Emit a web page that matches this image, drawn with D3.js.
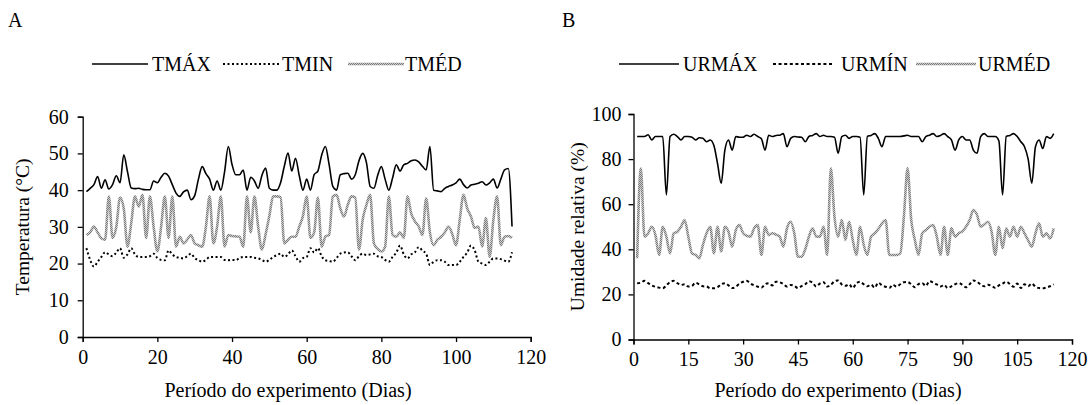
<!DOCTYPE html>
<html>
<head>
<meta charset="utf-8">
<script src="https://cdn.jsdelivr.net/npm/d3@7"></script>
<style>
  body { margin: 0; background: #fff; }
  svg text { font-family: "Liberation Serif", "Times New Roman", Times, serif; }
</style>
</head>
<body>
<div id="chart"></div>
<script>
// dias do experimento (eixo x)
var dias = d3.range(1, 116);

// Painel A - temperatura (°C)
var tmax = [
  39.6, 40.5, 41.5, 43.7, 40.5, 42.8, 40.3, 41.5, 43.9, 42,
  49.6, 45, 40.6, 40.4, 40.5, 40.2, 40.1, 40.1, 42.5, 42,
  43.5, 44.6, 43.8, 41.5, 39.2, 38.3, 39.5, 40, 37.4, 38.5,
  43, 46.4, 44.5, 43, 40, 42.5, 40, 45, 51.9, 47,
  44.2, 44.2, 45.5, 40, 43.5, 42.5, 40.5, 44, 46, 40.5,
  40, 40, 42, 46.5, 50.1, 45.2, 48.7, 44, 40, 43,
  40, 44.2, 45.2, 49.5, 51.9, 47, 41, 40, 44.2, 44.5,
  44.6, 43, 44.2, 48, 50, 47.5, 41, 40.5, 44, 46.4,
  43, 40, 43.3, 46.9, 45.2, 46.9, 47.3, 48, 48.2, 47.7,
  46.5, 45.5, 51.9, 40, 39.8, 39.6, 40.5, 41, 41.4, 42,
  43, 41.5, 40.6, 41.4, 41.6, 41.9, 42.3, 41.4, 42, 43,
  40.6, 43, 45.5, 45.9, 30.1
];
var tmin = [
  24.2, 21, 19.2, 20.5, 21.8, 23.1, 22.5, 22, 23, 24.2,
  21.6, 22.5, 24.2, 22.5, 21.8, 21.8, 21.8, 22, 22.7, 21.5,
  21, 20.9, 23.6, 22.5, 21.8, 21.6, 21.4, 22, 22.7, 21.5,
  20.9, 20.5, 21, 21.8, 21.8, 21.8, 21.8, 21, 20.9, 21,
  20.9, 21.5, 21.8, 21.8, 21.8, 21.6, 21.4, 21, 20.5, 21,
  21.8, 22.3, 22.7, 21.8, 22.5, 23.6, 22, 20.5, 21.5, 21.8,
  24.2, 23, 24.2, 22, 20.9, 20.7, 20.5, 21.5, 22.7, 23,
  23.1, 22, 20.9, 22, 22.7, 22.3, 22.5, 22.7, 22, 21.8,
  21, 20.5, 21.8, 23, 24.9, 22.5, 21.4, 22.5, 23.1, 24.5,
  23.5, 22.7, 19.6, 20.5, 20.9, 20.9, 20.5, 19.6, 19.6, 19.6,
  20.5, 21.8, 23, 24.9, 23.6, 20.5, 20, 19.6, 20.5, 21.4,
  21.4, 21.2, 20.8, 20.5, 23.1
];
var tmed = [
  27.8, 28.5, 30.1, 28.5, 26.9, 26.5, 38.3, 27, 30, 38,
  35, 24.6, 31, 38.3, 35.5, 38.7, 27, 38.3, 30, 23.3,
  30, 38.3, 27, 38.3, 24.6, 27.3, 25.5, 26.5, 27.8, 25.5,
  25, 24.6, 30, 38.3, 25.5, 30, 38.3, 24.6, 27.8, 27.5,
  27.4, 27.3, 24.6, 38.3, 28.5, 38.3, 30, 23.8, 28, 33,
  38.3, 38.3, 38, 25.5, 26.5, 27.3, 27.3, 30, 33, 38.3,
  27, 28.5, 38, 24.6, 27.3, 27.8, 38.3, 38.7, 35, 32.8,
  36, 38.3, 38, 23.8, 32, 36, 38.7, 25.5, 24, 23.3,
  24.6, 38.3, 27.8, 27.3, 28.5, 27, 38.3, 33.6, 31.5, 30.1,
  27.8, 37.8, 28.5, 25, 26.5, 27.3, 28.5, 30.1, 28, 25,
  32, 38.7, 35, 32.8, 29.7, 30.1, 24.6, 32.4, 21.9, 31.9,
  38.3, 25, 27.3, 27.5, 27
];

// Painel B - umidade relativa (%)
var urmax = [
  90, 90, 90, 90.8, 88.5, 90, 90, 90, 64.1, 90,
  91, 90, 88.5, 90, 90, 89.7, 88.5, 89.5, 89.2, 87.7,
  88.5, 86, 78, 69.3, 84, 88.5, 84, 90, 89.7, 89.7,
  90.6, 90, 91, 90, 89, 84, 90.6, 90, 90.5, 90.6,
  91.3, 85.5, 89.2, 90, 89.8, 89.7, 87.7, 90, 90.5, 91.3,
  90, 90.6, 90, 90, 89.7, 82.6, 90, 90.6, 89.2, 90,
  90, 89.7, 64.1, 90, 90.5, 91.3, 89.2, 85.5, 90, 90,
  90, 90, 90, 90.3, 90.6, 90, 90, 90, 87.7, 90,
  90.6, 91.3, 90, 90.5, 91.3, 90, 88.5, 84, 88.5, 90,
  88.5, 88.5, 84, 82.6, 90, 91.3, 90, 90, 90, 88,
  64.1, 90, 90.5, 91.3, 90, 87.7, 85.5, 80, 69.3, 85.5,
  88.5, 84.7, 90, 89.2, 91.3
];
var urmin = [
  24.9, 25.2, 26, 25, 24, 23.4, 23, 22.7, 24, 25.5,
  26, 25, 24.2, 24.5, 23.5, 23.8, 25.2, 24.4, 23.6, 23.5,
  22.7, 22.7, 23.2, 24.5, 25, 24, 22.8, 23.4, 24.8, 25.6,
  26, 24.8, 24, 23.4, 23, 24.5, 25, 24, 25.6, 25.4,
  24.6, 23.5, 24.2, 23.8, 22.8, 23.7, 24.5, 25.8, 25.2, 23.5,
  24.8, 25.4, 23.5, 24.2, 25.8, 26.2, 24.4, 23.8, 24.5, 22.8,
  24.9, 25.6, 24.5, 23.6, 24.3, 23, 25.2, 24, 23.4, 22.9,
  24.3, 23.4, 24.5, 25.4, 25.5, 24.5, 23.2, 24.6, 25, 23.8,
  25.9, 25.3, 24.4, 23.5, 24.2, 22.8, 23.6, 24.5, 25, 24.3,
  23.2, 24.5, 26.2, 25.6, 24.4, 23.6, 24.3, 23.8, 22.9, 24,
  24.8, 25.6, 24.6, 23.4, 24.8, 22.8, 24.5, 23.6, 24.8, 23.4,
  22.8, 22.7, 23.1, 23.6, 24.4
];
var urmed = [
  36, 75.9, 45.6, 47.1, 50, 46.3, 37.5, 50, 45.6, 38.2,
  47.1, 47.8, 50, 53, 45.6, 38.2, 37.5, 36, 42, 47.1,
  50, 38.2, 50, 39, 50, 47.8, 41.2, 48.5, 50.7, 47.1,
  46, 45.6, 49.3, 50.7, 37.5, 50, 46.3, 47.1, 46.5, 45.6,
  41.2, 49.3, 52.2, 47.1, 36.7, 36.7, 40, 45.6, 49.3, 45.6,
  45.6, 50, 37.5, 75.9, 54.5, 45.6, 53, 44.1, 52.2, 44.1,
  37.5, 50, 42, 37.5, 45.6, 47.1, 49, 51.5, 53, 37.5,
  37.5, 37.5, 38.2, 54.5, 75.9, 53, 44.1, 37.5, 47.1, 48.5,
  50, 50.7, 45.6, 37.5, 50, 37.5, 49.3, 45.6, 47.1, 48,
  50, 53, 57.4, 55.3, 50, 51, 52.2, 47.8, 37.5, 50,
  40.5, 49.3, 45.6, 50, 45.6, 50, 47.1, 44, 41.2, 47.1,
  51.5, 45.6, 47.1, 44.8, 49.3
];

// ticks
var yTicksA = [0, 10, 20, 30, 40, 50, 60];
var xTicksA = [0, 20, 40, 60, 80, 100, 120];
var yTicksB = [0, 20, 40, 60, 80, 100];
var xTicksB = [0, 15, 30, 45, 60, 75, 90, 105, 120];

var namesA = ["TMÁX", "TMIN", "TMÉD"];
var namesB = ["URMÁX", "URMÍN", "URMÉD"];

var FONT = "'Liberation Serif', 'Times New Roman', Times, serif";
var W = 1090, H = 405;
var svg = d3.select("#chart").append("svg")
  .attr("width", W)
  .attr("height", H);

svg.append("rect").attr("width", W).attr("height", H).attr("fill", "#fff");

// textura cinza (linha "pontilhada" do Excel)
var pat = svg.append("defs").append("pattern")
  .attr("id", "grayTex")
  .attr("width", 2).attr("height", 2)
  .attr("patternUnits", "userSpaceOnUse");
pat.append("rect").attr("width", 2).attr("height", 2).attr("fill", "#cccccc");
pat.append("rect").attr("width", 1).attr("height", 1).attr("fill", "#7a7a7a");
pat.append("rect").attr("x", 1).attr("y", 1).attr("width", 1).attr("height", 1).attr("fill", "#7a7a7a");

// estilos das 3 series: max, min, med
function styleLine(sel, kind, dashMin) {
  if (kind === 0) {
    sel.attr("stroke", "#000").attr("stroke-width", 1.6);
  } else if (kind === 1) {
    sel.attr("stroke", "#000").attr("stroke-width", 2).attr("stroke-dasharray", dashMin);
  } else {
    sel.attr("stroke", "url(#grayTex)").attr("stroke-width", 2.6);
  }
  return sel;
}

function txt(sel, size) {
  return sel.style("font-family", FONT).style("font-size", size + "px").attr("fill", "#000");
}

function drawPanel(cfg) {
  var g = svg.append("g");

  var x = d3.scaleLinear().domain([0, 120]).range([cfg.left, cfg.right]);
  var y = d3.scaleLinear().domain([0, cfg.yMax]).range([cfg.bottom, cfg.top]);

  // eixo x
  var gx = g.append("g")
    .attr("transform", "translate(0," + cfg.bottom + ")")
    .call(d3.axisBottom(x).tickValues(cfg.xTicks).tickSize(5).tickPadding(cfg.xPad));
  // eixo y
  var gy = g.append("g")
    .attr("transform", "translate(" + cfg.left + ",0)")
    .call(d3.axisLeft(y).tickValues(cfg.yTicks).tickSize(5).tickPadding(cfg.yPad));

  [gx, gy].forEach(function (a) {
    a.attr("font-family", null).attr("font-size", null);
    a.selectAll("path, line").attr("stroke", "#000").attr("stroke-width", 1.3);
    txt(a.selectAll("text"), 20);
  });

  // linhas
  var line = d3.line()
    .x(function (d, i) { return x(dias[i]); })
    .y(function (d) { return y(d); })
    .curve(d3.curveMonotoneX);

  // ordem: med embaixo, depois min, depois max
  [2, 1, 0].forEach(function (k) {
    styleLine(g.append("path")
      .datum(cfg.series[k])
      .attr("fill", "none")
      .attr("stroke-linejoin", "round")
      .attr("d", line), k, cfg.dash);
  });

  // legenda
  cfg.names.forEach(function (nm, k) {
    var lx = cfg.legX[k];
    styleLine(g.append("line")
      .attr("x1", lx).attr("x2", lx + cfg.legLen)
      .attr("y1", cfg.legY).attr("y2", cfg.legY), k, cfg.dash);
    txt(g.append("text")
      .attr("x", lx + cfg.legLen + cfg.legGap[k])
      .attr("y", cfg.legY + 7), 20)
      .text(nm);
  });

  // titulos
  txt(g.append("text")
    .attr("x", cfg.xTitleX).attr("y", 397)
    .attr("text-anchor", "middle"), 20)
    .text("Período do experimento (Dias)");

  txt(g.append("text")
    .attr("transform", "translate(" + cfg.yTitleX + "," + ((cfg.top + cfg.bottom) / 2) + ") rotate(-90)")
    .attr("text-anchor", "middle"), 19.5)
    .text(cfg.yTitle);

  txt(g.append("text")
    .attr("x", cfg.letterX).attr("y", 27), 20)
    .text(cfg.letter);
}

drawPanel({
  letter: "A", letterX: 8,
  left: 82.7, right: 530.7, top: 116.7, bottom: 337,
  yMax: 60, xTicks: xTicksA, yTicks: yTicksA, xPad: 8, yPad: 9,
  series: [tmax, tmin, tmed], names: namesA, dash: "2,2.5",
  legX: [92, 223, 348], legLen: 56, legGap: [4, 3, 1], legY: 64,
  xTitleX: 288, yTitleX: 29, yTitle: "Temperatura (°C)"
});

drawPanel({
  letter: "B", letterX: 562,
  left: 633.5, right: 1072, top: 114, bottom: 339.5,
  yMax: 100, xTicks: xTicksB, yTicks: yTicksB, xPad: 7, yPad: 7,
  series: [urmax, urmin, urmed], names: namesB, dash: "3,2.6",
  legX: [619, 773, 916], legLen: 60, legGap: [4, 8, 2], legY: 64,
  xTitleX: 838, yTitleX: 584, yTitle: "Umidade relativa (%)"
});
</script>
</body>
</html>
